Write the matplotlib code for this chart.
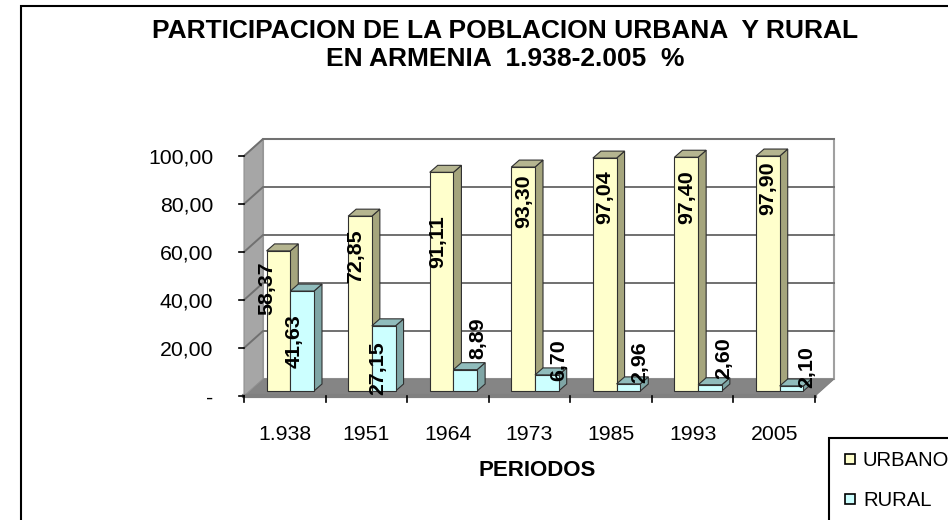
import matplotlib
matplotlib.use("Agg")
import matplotlib.pyplot as plt
from matplotlib.patches import Polygon, Rectangle

plt.rcParams['font.family'] = ['Liberation Sans', 'DejaVu Sans']

periods = ['1.938', '1951', '1964', '1973', '1985', '1993', '2005']
urbano = [58.37, 72.85, 91.11, 93.30, 97.04, 97.40, 97.90]
rural = [41.63, 27.15, 8.89, 6.70, 2.96, 2.60, 2.10]
y_ticks = [0, 20, 40, 60, 80, 100]
y_labels = ['-', '20,00', '40,00', '60,00', '80,00', '100,00']

# label centre offsets from the bar's top centre, in pixels (x right, y up)
urbano_off = [(-12, -37), (-4, -40), (-4, -69), (1, -34), (0, -39), (0, -40), (0, -32)]
rural_off = [(-8, -50), (-6, -42), (13, 31), (12, 15), (11, 22), (14, 27), (15, 19)]

W, H = 948, 520
fig = plt.figure(figsize=(W / 100, H / 100), dpi=100)

# axes sit on the front plane of the fake 3d box
left, right, top, bottom = 244, 815, 156, 396
ax = fig.add_axes([left / W, 1 - bottom / H, (right - left) / W, (bottom - top) / H])
ax.set_xlim(0, 7)
ax.set_ylim(0, 100)
ax.axis('off')

px = 7 / (right - left)
py = 100 / (bottom - top)
dx, dy = 19 * px, 17 * py
bar_w = 23.7 * px
bx, by = 8 * px, 7 * py
shift_x, shift_y = 5.5 * px, 5 * py


def poly(pts, fc, ec='#303030', z=2, lw=0.8):
    ax.add_patch(Polygon(pts, closed=True, facecolor=fc, edgecolor=ec, lw=lw, zorder=z, clip_on=False))


# walls and floor
poly([(0, 0), (dx, dy), (7 + dx, dy), (7, 0)], '#858585', ec='#808080', z=1)
poly([(0, 0), (dx, dy), (dx, 100 + dy), (0, 100)], '#a6a6a6', ec='#909090', z=1)
poly([(dx, dy), (7 + dx, dy), (7 + dx, 100 + dy), (dx, 100 + dy)], 'white', ec='#a0a0a0', z=0.5, lw=1.5)
for t in y_ticks[1:]:
    ax.plot([0, dx, 7 + dx], [t, t + dy, t + dy], color='#707070', lw=1.4, zorder=1, clip_on=False)
ax.plot([0, 7], [0, 0], color='#808080', lw=3, zorder=1, clip_on=False)

# axis ticks
for t, lab in zip(y_ticks, y_labels):
    ax.plot([-5 * px, 0], [t, t], color='black', lw=1.2, zorder=3, clip_on=False)
    ax.text(-31 * px, t - 2 * py, lab, ha='right', va='center', fontsize=15.3)
for i in range(8):
    ax.plot([i, i], [0, -6 * py], color='black', lw=1.2, zorder=3, clip_on=False)
for i, lab in enumerate(periods):
    ax.text(i + 0.5, -16, lab, ha='center', va='center', fontsize=15.3)


def draw_bar(x0, v, front, side, topc, z):
    y0 = shift_y
    y1 = v + shift_y
    x1 = x0 + bar_w
    poly([(x1, y0), (x1 + bx, y0 + by), (x1 + bx, y1 + by), (x1, y1)], side, z=z)
    poly([(x0, y1), (x0 + bx, y1 + by), (x1 + bx, y1 + by), (x1, y1)], topc, z=z)
    poly([(x0, y0), (x1, y0), (x1, y1), (x0, y1)], front, z=z)


for i in range(len(periods)):
    c = i + 0.5 + shift_x
    draw_bar(c - bar_w, urbano[i], '#ffffcc', '#a5a57d', '#b5b590', 3)
    draw_bar(c, rural[i], '#ccffff', '#7fa6a6', '#90bcbc', 4)

for vals, offs, side in [(urbano, urbano_off, -0.5), (rural, rural_off, 0.5)]:
    for i, v in enumerate(vals):
        xc = i + 0.5 + shift_x + side * bar_w
        ax.annotate(f'{v:.2f}'.replace('.', ','), xy=(xc, v + shift_y),
                    xytext=(offs[i][0] * 0.72, offs[i][1] * 0.72), textcoords='offset points',
                    rotation=90, ha='center', va='center', fontsize=15.4, fontweight='bold',
                    zorder=6, annotation_clip=False)

# text outside the axes, placed in figure fractions
fig.text(505 / W, 1 - 45 / H, 'PARTICIPACION DE LA POBLACION URBANA  Y RURAL\nEN ARMENIA  1.938-2.005  %',
         ha='center', va='center', fontsize=19, fontweight='bold', linespacing=1.22)
fig.text(537 / W, 1 - 471 / H, 'PERIODOS', ha='center', va='center', fontsize=16, fontweight='bold')

# chart frame and legend box run off the picture on the right and bottom
fig.add_artist(Rectangle((21 / W, -5 / H), 1.0, 1 - 0.5 / H, transform=fig.transFigure, fill=False, ec='black', lw=1.5))
fig.add_artist(Rectangle((829 / W, -5 / H), 1.0, (525 - 438) / H, transform=fig.transFigure, fc='white', ec='black', lw=1.5))
for name, col, ys, yt in [('URBANO', '#ffffcc', 459, 461), ('RURAL', '#ccffff', 499, 501)]:
    fig.add_artist(Rectangle((845 / W, 1 - (ys + 5) / H), 10 / W, 10 / H, transform=fig.transFigure, fc=col, ec='black', lw=1.2))
    fig.text(863 / W, 1 - yt / H, name, ha='left', va='center', fontsize=14.6)

fig.savefig('out.png', dpi=100)
